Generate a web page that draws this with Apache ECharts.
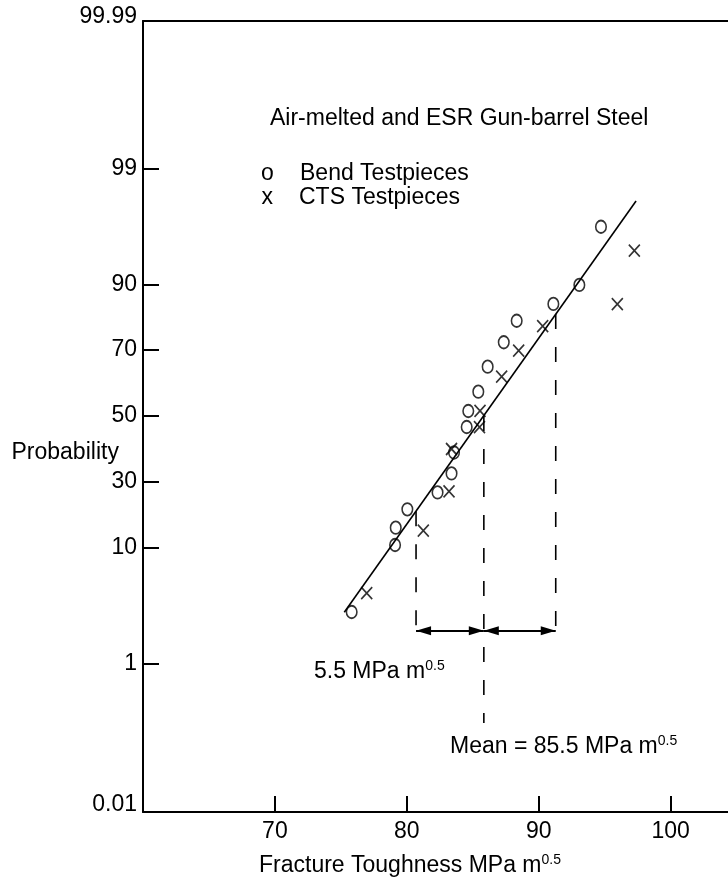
<!DOCTYPE html>
<html>
<head>
<meta charset="utf-8">
<script src="https://cdn.jsdelivr.net/npm/echarts@6/dist/echarts.min.js"></script>
<style>
html,body{margin:0;padding:0;background:#fff;}
#chart{width:728px;height:884px;}
</style>
</head>
<body>
<div id="chart"></div>
<script>
// X axis ticks (fracture toughness, MPa m^0.5)
const toughnessTicks = [70, 80, 90, 100];
// Probability axis: labels and their positions on the normal-score axis as drawn
const probLabels = ['0.01', '1', '10', '30', '50', '70', '90', '99', '99.99'];
const probTickPos = [-3.729, -2.332, -1.243, -0.621, 0, 0.621, 1.240, 2.329, 3.719];

// Bend testpieces (o)
const bendToughness = [75.82, 79.11, 79.16, 80.04, 82.33, 83.39, 83.58, 84.54, 84.66, 85.42, 86.13, 87.35, 88.33, 91.11, 93.08, 94.72];
const bendScore = [-1.846, -1.215, -1.052, -0.879, -0.720, -0.541, -0.344, -0.104, 0.047, 0.229, 0.464, 0.694, 0.897, 1.055, 1.234, 1.782];

// CTS testpieces (x)
const ctsToughness = [76.96, 81.25, 83.20, 83.39, 85.51, 85.55, 87.19, 88.48, 90.30, 95.96, 97.25];
const ctsScore = [-1.669, -1.080, -0.711, -0.311, -0.104, 0.047, 0.370, 0.615, 0.847, 1.052, 1.557];

// Fitted line end points
const fitToughness = [75.26, 97.38];
const fitScore = [-1.848, 2.024];

// Guide lines: lower (-1 sd), mean, upper (+1 sd)
const guideToughness = [80.70, 85.84, 91.29];
const guideTopScore = [-0.896, 0, 0.959];
const guideBottomScore = [-2.022, -2.891, -2.022];
const arrowScore = -2.022;

const FONT_FAMILY = '"Liberation Sans", Arial, Helvetica, sans-serif';
const FS = 23;

const zip = (a, b) => a.map((v, i) => [v, b[i]]);

const chart = echarts.init(document.getElementById('chart'), null, {renderer: 'canvas'});

const circlePath = 'path://M5,0 A5,6 0 1 1 5,12 A5,6 0 1 1 5,0 Z';
const crossPath = 'path://M0,0 L10,11 M10,0 L0,11';

function supText(main, sup) {
  return {
    text: '{n|' + main + '}{s|' + sup + '}',
    rich: {
      n: {fontSize: FS, fontFamily: FONT_FAMILY, fill: '#000', color: '#000', lineHeight: 26},
      s: {fontSize: 14, fontFamily: FONT_FAMILY, fill: '#000', color: '#000', lineHeight: 14, verticalAlign: 'top'}
    }
  };
}

function txt(x, y, style) {
  return {
    type: 'text', x: x, y: y, silent: true,
    style: Object.assign({
      font: FS + 'px ' + FONT_FAMILY,
      fill: '#000',
      textVerticalAlign: 'middle', verticalAlign: 'middle',
      textAlign: 'left', align: 'left'
    }, style)
  };
}

function arrowEnd(x) {
  return {coord: [x, arrowScore], symbol: 'triangle', symbolSize: [9, 15], symbolOffset: [0, 7.5]};
}

const guideSeries = guideToughness.map((x, i) => ({
  type: 'line',
  name: 'guide' + i,
  data: [[x, guideTopScore[i]], [x, guideBottomScore[i]]],
  symbol: 'none',
  silent: true,
  lineStyle: {color: '#000', width: 1.6, type: [15, 18]},
  z: 2
}));

const option = {
  animation: false,
  backgroundColor: '#fff',
  grid: {left: 143, right: 0, top: 21, bottom: 72, containLabel: false},
  xAxis: [{
    type: 'value',
    min: 60, max: 104.35,
    interval: 10,
    axisLine: {show: true, onZero: false, lineStyle: {color: '#000', width: 2}},
    axisTick: {show: true, inside: true, length: 16, customValues: toughnessTicks, lineStyle: {color: '#000', width: 2}},
    axisLabel: {show: true, customValues: toughnessTicks, margin: 8, color: '#000', fontSize: FS, fontFamily: FONT_FAMILY},
    splitLine: {show: false}
  }, {
    type: 'value',
    position: 'top',
    min: 60, max: 104.35,
    axisLine: {show: true, onZero: false, lineStyle: {color: '#000', width: 2}},
    axisTick: {show: false},
    axisLabel: {show: false},
    splitLine: {show: false}
  }],
  yAxis: {
    type: 'value',
    min: -3.729, max: 3.719,
    axisLine: {show: true, onZero: false, lineStyle: {color: '#000', width: 2}},
    axisTick: {show: true, inside: true, length: 16, customValues: probTickPos, lineStyle: {color: '#000', width: 2}},
    axisLabel: {
      show: true, customValues: probTickPos, margin: 6, color: '#000', fontSize: FS, fontFamily: FONT_FAMILY,
      formatter: function (v) {
        let best = 0;
        probTickPos.forEach((p, i) => { if (Math.abs(p - v) < Math.abs(probTickPos[best] - v)) best = i; });
        const lab = probLabels[best];
        if (best === 0) return '{lo|' + lab + '}';
        if (best === probLabels.length - 1) return '{hi|' + lab + '}';
        return lab;
      },
      rich: {
        lo: {fontSize: FS, fontFamily: FONT_FAMILY, color: '#000', padding: [0, 0, 14, 0]},
        hi: {fontSize: FS, fontFamily: FONT_FAMILY, color: '#000', padding: [0, 0, 8, 0]}
      }
    },
    splitLine: {show: false}
  },
  series: [
    {
      type: 'line',
      name: 'Fit',
      data: zip(fitToughness, fitScore),
      symbol: 'none',
      silent: true,
      lineStyle: {color: '#000', width: 1.6},
      z: 3
    },
    ...guideSeries,
    {
      type: 'line',
      name: 'arrows',
      data: [],
      symbol: 'none',
      silent: true,
      color: '#000',
      markLine: {
        silent: true,
        animation: false,
        symbol: ['triangle', 'triangle'],
        label: {show: false},
        itemStyle: {color: '#000'},
        lineStyle: {color: '#000', width: 1.8, type: 'solid'},
        emphasis: {disabled: true},
        data: [
          [arrowEnd(guideToughness[0]), arrowEnd(guideToughness[1])],
          [arrowEnd(guideToughness[1]), arrowEnd(guideToughness[2])]
        ]
      }
    },
    {
      type: 'scatter',
      name: 'Bend Testpieces',
      data: zip(bendToughness, bendScore),
      symbol: circlePath,
      symbolSize: [10.5, 12.5],
      silent: true,
      itemStyle: {color: 'none', borderColor: '#000', borderWidth: 1.7},
      z: 4
    },
    {
      type: 'scatter',
      name: 'CTS Testpieces',
      data: zip(ctsToughness, ctsScore),
      symbol: crossPath,
      symbolSize: [11, 12],
      silent: true,
      itemStyle: {color: 'none', borderColor: '#000', borderWidth: 1.7},
      z: 4
    }
  ],
  graphic: [
    txt(270, 119, {text: 'Air-melted and ESR Gun-barrel Steel'}),
    txt(261, 174, {text: 'o'}),
    txt(300, 174, {text: 'Bend Testpieces'}),
    txt(261.5, 197.5, {text: 'x'}),
    txt(299, 197.5, {text: 'CTS Testpieces'}),
    txt(11.5, 452.8, {text: 'Probability'}),
    txt(314, 671.7, supText('5.5 MPa m', '0.5')),
    txt(450, 747, supText('Mean = 85.5 MPa m', '0.5')),
    txt(259, 866, supText('Fracture Toughness MPa m', '0.5'))
  ]
};

chart.setOption(option);
</script>
</body>
</html>
